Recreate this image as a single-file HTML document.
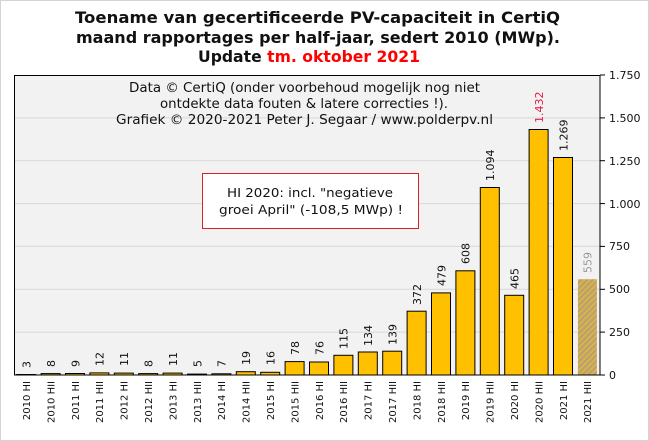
<!DOCTYPE html>
<html><head><meta charset="utf-8"><style>
html,body{margin:0;padding:0;background:#fff}
svg{display:block}
text{font-family:"DejaVu Sans","Liberation Sans",sans-serif}
</style></head><body>
<svg width="649" height="441" viewBox="0 0 649 441" xmlns="http://www.w3.org/2000/svg">
<defs>
<pattern id="hatch" width="4" height="4" patternUnits="userSpaceOnUse" patternTransform="rotate(45)">
<rect width="4" height="4" fill="#d9b34a"/><rect width="2" height="4" fill="#b8a070"/>
</pattern>
</defs>
<rect x="0.5" y="0.5" width="648" height="440" fill="#fff" stroke="#d4d4d4"/>
<text x="75" y="23" font-size="16" font-weight="bold" fill="#111" textLength="485" lengthAdjust="spacingAndGlyphs">Toename van gecertificeerde PV-capaciteit in CertiQ</text>
<text x="76" y="43" font-size="16" font-weight="bold" fill="#111" textLength="484" lengthAdjust="spacingAndGlyphs">maand rapportages per half-jaar, sedert 2010 (MWp).</text>
<text x="198" y="62" font-size="16" font-weight="bold" fill="#111" textLength="222" lengthAdjust="spacingAndGlyphs">Update <tspan fill="#ff0000">tm. oktober 2021</tspan></text>
<rect x="14" y="75" width="586" height="300" fill="#f2f2f2"/>
<g stroke="#d8d8d8" stroke-width="1">
<line x1="14" x2="600" y1="332.1" y2="332.1"/><line x1="14" x2="600" y1="289.3" y2="289.3"/>
<line x1="14" x2="600" y1="246.4" y2="246.4"/><line x1="14" x2="600" y1="203.6" y2="203.6"/>
<line x1="14" x2="600" y1="160.7" y2="160.7"/><line x1="14" x2="600" y1="117.9" y2="117.9"/>
</g>
<g font-size="13" fill="#111">
<text x="129" y="92" textLength="351" lengthAdjust="spacingAndGlyphs">Data © CertiQ (onder voorbehoud mogelijk  nog niet</text>
<text x="160" y="108" textLength="288" lengthAdjust="spacingAndGlyphs">ontdekte data fouten &amp; latere correcties !).</text>
<text x="116" y="124" textLength="377" lengthAdjust="spacingAndGlyphs">Grafiek  © 2020-2021 Peter J. Segaar / www.polderpv.nl</text>
</g>
<rect x="202.5" y="173.5" width="216" height="55" fill="#fff" stroke="#e02020"/>
<text x="227" y="197" font-size="12.5" fill="#111" textLength="166" lengthAdjust="spacingAndGlyphs">HI 2020: incl. "negatieve</text>
<text x="219" y="214" font-size="12.5" fill="#111" textLength="184" lengthAdjust="spacingAndGlyphs">groei April"  (-108,5 MWp) !</text>
<g fill="#ffc000" stroke="#000" stroke-width="1">
<rect x="16.7" y="374.5" width="19" height="0.5"/>
<rect x="41.1" y="373.6" width="19" height="1.4"/>
<rect x="65.5" y="373.5" width="19" height="1.5"/>
<rect x="89.9" y="372.9" width="19" height="2.1"/>
<rect x="114.3" y="373.1" width="19" height="1.9"/>
<rect x="138.7" y="373.6" width="19" height="1.4"/>
<rect x="163.1" y="373.1" width="19" height="1.9"/>
<rect x="187.5" y="374.1" width="19" height="0.9"/>
<rect x="211.9" y="373.8" width="19" height="1.2"/>
<rect x="236.3" y="371.7" width="19" height="3.3"/>
<rect x="260.7" y="372.3" width="19" height="2.7"/>
<rect x="285.1" y="361.6" width="19" height="13.4"/>
<rect x="309.5" y="362" width="19" height="13"/>
<rect x="333.9" y="355.3" width="19" height="19.7"/>
<rect x="358.3" y="352" width="19" height="23"/>
<rect x="382.7" y="351.2" width="19" height="23.8"/>
<rect x="407.1" y="311.2" width="19" height="63.8"/>
<rect x="431.5" y="292.9" width="19" height="82.1"/>
<rect x="455.9" y="270.8" width="19" height="104.2"/>
<rect x="480.3" y="187.5" width="19" height="187.5"/>
<rect x="504.7" y="295.3" width="19" height="79.7"/>
<rect x="529.1" y="129.5" width="19" height="245.5"/>
<rect x="553.5" y="157.5" width="19" height="217.5"/>
</g>
<rect x="577.9" y="279.2" width="19" height="95.8" fill="url(#hatch)"/>
<rect x="14.5" y="75.5" width="585.5" height="299.5" fill="none" stroke="#000"/>
<g stroke="#000"><line x1="600" x2="605" y1="375" y2="375"/><line x1="600" x2="605" y1="332.1" y2="332.1"/><line x1="600" x2="605" y1="289.3" y2="289.3"/><line x1="600" x2="605" y1="246.4" y2="246.4"/><line x1="600" x2="605" y1="203.6" y2="203.6"/><line x1="600" x2="605" y1="160.7" y2="160.7"/><line x1="600" x2="605" y1="117.9" y2="117.9"/><line x1="600" x2="605" y1="75" y2="75"/></g>
<g font-size="11" fill="#111">
<text x="609" y="379">0</text><text x="609" y="336">250</text><text x="609" y="293">500</text><text x="609" y="250">750</text>
<text x="609" y="208">1.000</text><text x="609" y="165">1.250</text><text x="609" y="122">1.500</text><text x="609" y="79">1.750</text>
</g>
<g font-size="11" fill="#111">
<text transform="translate(30.5,368) rotate(-90)">3</text>
<text transform="translate(54.9,367) rotate(-90)">8</text>
<text transform="translate(79.3,367) rotate(-90)">9</text>
<text transform="translate(103.7,366) rotate(-90)">12</text>
<text transform="translate(128.1,366) rotate(-90)">11</text>
<text transform="translate(152.5,367) rotate(-90)">8</text>
<text transform="translate(176.9,366) rotate(-90)">11</text>
<text transform="translate(201.3,367) rotate(-90)">5</text>
<text transform="translate(225.7,367) rotate(-90)">7</text>
<text transform="translate(250.1,365) rotate(-90)">19</text>
<text transform="translate(274.5,365) rotate(-90)">16</text>
<text transform="translate(298.9,355) rotate(-90)">78</text>
<text transform="translate(323.3,355) rotate(-90)">76</text>
<text transform="translate(347.7,349) rotate(-90)">115</text>
<text transform="translate(372.1,346) rotate(-90)">134</text>
<text transform="translate(396.5,345) rotate(-90)">139</text>
<text transform="translate(420.9,305) rotate(-90)">372</text>
<text transform="translate(445.3,286) rotate(-90)">479</text>
<text transform="translate(469.7,264) rotate(-90)">608</text>
<text transform="translate(494.1,181) rotate(-90)">1.094</text>
<text transform="translate(518.5,289) rotate(-90)">465</text>
<text transform="translate(542.9,123) rotate(-90)" fill="#e0204a">1.432</text>
<text transform="translate(567.3,151) rotate(-90)">1.269</text>
<text transform="translate(591.7,273) rotate(-90)" fill="#999">559</text>
</g>
<g font-size="10" fill="#111" text-anchor="end">
<text transform="translate(30,381) rotate(-90)">2010 HI</text>
<text transform="translate(54.4,381) rotate(-90)">2010 HII</text>
<text transform="translate(78.8,381) rotate(-90)">2011 HI</text>
<text transform="translate(103.2,381) rotate(-90)">2011 HII</text>
<text transform="translate(127.6,381) rotate(-90)">2012 HI</text>
<text transform="translate(152,381) rotate(-90)">2012 HII</text>
<text transform="translate(176.4,381) rotate(-90)">2013 HI</text>
<text transform="translate(200.8,381) rotate(-90)">2013 HII</text>
<text transform="translate(225.2,381) rotate(-90)">2014 HI</text>
<text transform="translate(249.6,381) rotate(-90)">2014 HII</text>
<text transform="translate(274,381) rotate(-90)">2015 HI</text>
<text transform="translate(298.4,381) rotate(-90)">2015 HII</text>
<text transform="translate(322.8,381) rotate(-90)">2016 HI</text>
<text transform="translate(347.2,381) rotate(-90)">2016 HII</text>
<text transform="translate(371.6,381) rotate(-90)">2017 HI</text>
<text transform="translate(396,381) rotate(-90)">2017 HII</text>
<text transform="translate(420.4,381) rotate(-90)">2018 HI</text>
<text transform="translate(444.8,381) rotate(-90)">2018 HII</text>
<text transform="translate(469.2,381) rotate(-90)">2019 HI</text>
<text transform="translate(493.6,381) rotate(-90)">2019 HII</text>
<text transform="translate(518,381) rotate(-90)">2020 HI</text>
<text transform="translate(542.4,381) rotate(-90)">2020 HII</text>
<text transform="translate(566.8,381) rotate(-90)">2021 HI</text>
<text transform="translate(591.2,381) rotate(-90)">2021 HII</text>
</g>
</svg>
</body></html>
